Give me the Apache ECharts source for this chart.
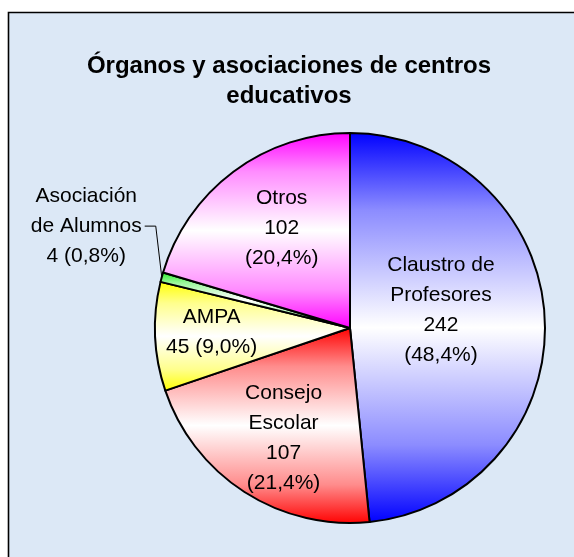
<!DOCTYPE html>
<html>
<head>
<meta charset="utf-8">
<script src="https://cdn.jsdelivr.net/npm/echarts@6/dist/echarts.min.js"></script>
<style>
html,body{margin:0;padding:0;background:#fff;}
#chart{width:574px;height:557px;}
</style>
</head>
<body>
<div id="chart"></div>
<script>
// ---- data ----
const titleLines = ['Órganos y asociaciones de centros', 'educativos'];
const categories = ['Claustro de Profesores', 'Consejo Escolar', 'AMPA', 'Asociación de Alumnos', 'Otros'];
const labelNames = ['Claustro de\nProfesores', 'Consejo\nEscolar', 'AMPA', 'Asociación\nde Alumnos', 'Otros'];
const values = [242, 107, 45, 4, 102];
const valueSep = ['\n', '\n', ' ', ' ', '\n'];
const baseColors = ['#0000ff', '#ff0000', '#ffff00', '#22ee22', '#ff00ff'];

// ---- styles / layout ----
const CX = 350, CY = 328, R = 195;
// label placement: [fraction of radius, angle offset in degrees from slice middle]
const labelPlace = [[0.475, 8.0], [0.66, 1.7], [0.71, -0.9], [1.45, -6.0], [0.62, -2.3]];

function mix(hex, t) { // t: share of white
  const n = parseInt(hex.slice(1), 16);
  const r = (n >> 16) & 255, g = (n >> 8) & 255, b = n & 255;
  const f = c => Math.round(c + (255 - c) * t);
  return 'rgb(' + f(r) + ',' + f(g) + ',' + f(b) + ')';
}
function grad(c) {
  return new echarts.graphic.LinearGradient(0, 0, 0, 1, [
    {offset: 0, color: c},
    {offset: 0.2, color: mix(c, 0.55)},
    {offset: 0.5, color: '#ffffff'},
    {offset: 0.8, color: mix(c, 0.55)},
    {offset: 1, color: c}
  ]);
}

const total = values.reduce((a, b) => a + b, 0);
const midAngles = [];
(function () {
  let acc = 0;
  for (let i = 0; i < values.length; i++) {
    const a0 = 90 - acc / total * 360;
    acc += values[i];
    const a1 = 90 - acc / total * 360;
    midAngles.push((a0 + a1) / 2);
  }
})();

const data = categories.map((name, i) => {
  const item = {
    name: name,
    value: values[i],
    itemStyle: {color: grad(baseColors[i])}
  };
  if (i === 3) {
    item.label = {position: 'outside'};
    item.labelLine = {show: true, length: 10, length2: 10, lineStyle: {color: '#000', width: 1}};
  }
  return item;
});

const chart = echarts.init(document.getElementById('chart'), null, {renderer: 'canvas'});
chart.setOption({
  animation: false,
  backgroundColor: '#ffffff',
  graphic: [
    {type: 'rect', z: -10, silent: true,
     shape: {x: 8.5, y: 12.5, width: 700, height: 700},
     style: {fill: '#dce8f6', stroke: '#000', lineWidth: 1.6}},
    {type: 'text', z: 10, x: 289, y: 51,
     style: {text: titleLines.join('\n'), fontFamily: 'Liberation Sans, Arial, sans-serif',
             fontWeight: 'bold', fontSize: 24, lineHeight: 30, fill: '#000', textAlign: 'center'}}
  ],
  series: [{
    type: 'pie',
    center: [CX, CY],
    radius: [0, R],
    startAngle: 90,
    clockwise: true,
    avoidLabelOverlap: false,
    itemStyle: {borderColor: '#000', borderWidth: 2},
    label: {
      show: true,
      position: 'inside',
      color: '#000',
      fontFamily: 'Liberation Sans, Arial, sans-serif',
      fontSize: 21,
      lineHeight: 30,
      align: 'center',
      formatter: p => labelNames[p.dataIndex] + '\n' + p.value + valueSep[p.dataIndex] +
        '(' + (p.value / total * 100).toFixed(1).replace('.', ',') + '%)'
    },
    labelLine: {show: false},
    labelLayout: function (p) {
      const i = p.dataIndex;
      const pl = labelPlace[i];
      const a = (midAngles[i] + pl[1]) * Math.PI / 180;
      const x = CX + pl[0] * R * Math.cos(a);
      const y = CY - pl[0] * R * Math.sin(a);
      const res = {x: x, y: y, align: 'center', verticalAlign: 'middle'};
      if (i === 3) {
        const am = midAngles[i] * Math.PI / 180;
        const ex = CX + R * Math.cos(am), ey = CY - R * Math.sin(am);
        const right = x + p.labelRect.width / 2 + 3;
        res.labelLinePoints = [[ex, ey], [ex - 6, y], [right, y]];
      }
      return res;
    },
    data: data
  }]
});
</script>
</body>
</html>
